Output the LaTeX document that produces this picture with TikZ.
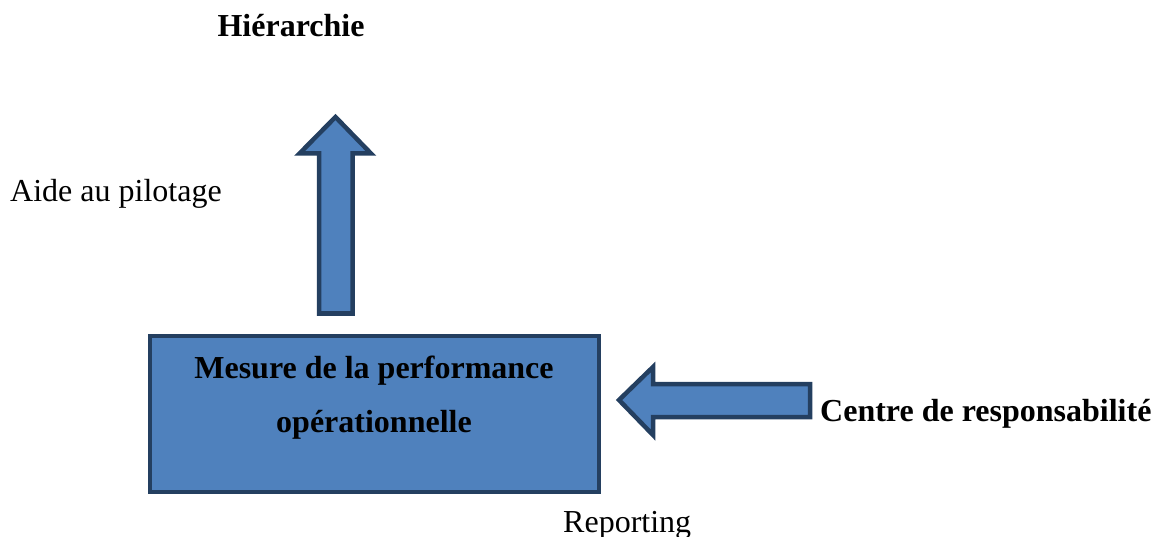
\documentclass[tikz,border=0pt]{standalone}
\usepackage{fontspec}
\setmainfont{Liberation Serif}
\definecolor{fillblue}{HTML}{4F81BD}
\definecolor{edgeblue}{HTML}{243F60}
\begin{document}
\begin{tikzpicture}[x=1pt,y=-1pt,
  lbl/.style={anchor=base,inner sep=0pt,font=\fontsize{32}{38}\selectfont},
  blbl/.style={lbl,font=\fontsize{32}{38}\selectfont\bfseries},
  blockshape/.style={fill=fillblue,draw=edgeblue,line width=4.5pt,line join=miter}]
\useasboundingbox (0,0) rectangle (1159,537);
% box
\node[blockshape,minimum width=449pt,minimum height=156pt,inner sep=0pt,outer sep=0pt,anchor=north west] (box) at (150,336) {};
\node[blbl,align=center] (boxtext1) at (374,378) {Mesure de la performance};
\node[blbl] (boxtext2) at (374,432) {opérationnelle};
% up arrow
\coordinate (upbase) at (335.7,313.5);
\coordinate (uptip) at (335.5,117);
\draw[blockshape] (319,313.5) -- (319,153.5) -- (299.5,153.5) -- (uptip) -- (371,153.5) -- (352.5,153.5) -- (352.5,313.5) -- cycle;
% left arrow
\coordinate (lefttip) at (619,400);
\draw[blockshape] (810,384) -- (653,384) -- (653,367) -- (lefttip) -- (653,435) -- (653,417) -- (810,417) -- cycle;
% labels
\node[blbl] (hier) at (291,37) {Hiérarchie};
\node[lbl,anchor=base west] (aide) at (10,202) {Aide au pilotage};
\node[blbl,anchor=base west] (centre) at (820,421) {Centre de responsabilité};
\node[lbl,anchor=base west] (rep) at (563,532) {Reporting};
\end{tikzpicture}
\end{document}
